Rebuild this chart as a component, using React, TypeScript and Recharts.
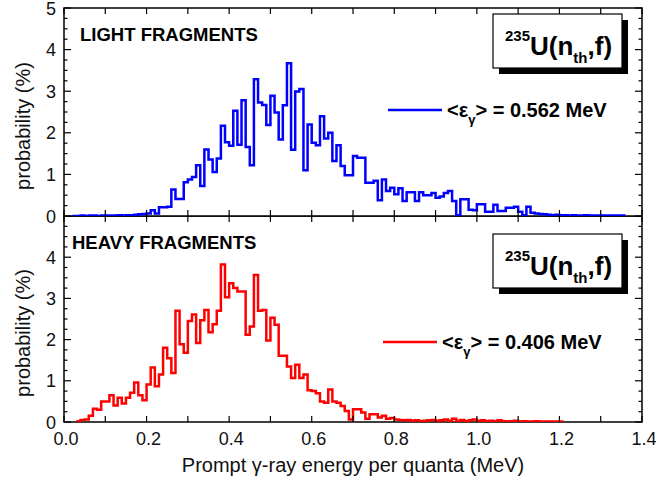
import { Line, LineChart, ReferenceArea, XAxis, YAxis } from "recharts"

// histogram bins, 0.01 MeV wide, values in %
const binWidth = 0.01

const lightStart = 0.02
const lightValues = [
  0.0, 0.0, 0.01, 0.0, 0.01, 0.01, 0.0, 0.01, 0.01, 0.01,
  0.01, 0.02, 0.01, 0.02, 0.02, 0.03, 0.04, 0.05, 0.06, 0.14,
  0.06, 0.21, 0.21, 0.22, 0.64, 0.41, 0.41, 0.81, 0.88, 0.94,
  1.22, 0.72, 1.6, 1.36, 1.06, 1.38, 2.17, 1.77, 1.69, 2.53,
  1.71, 2.78, 1.66, 1.22, 3.29, 2.73, 2.67, 2.19, 2.89, 2.49,
  1.84, 2.66, 3.67, 1.59, 2.99, 3.05, 1.1, 2.2, 1.76, 1.7,
  2.4, 1.86, 2.0, 1.32, 1.7, 1.2, 0.98, 0.98, 1.44, 1.4,
  1.4, 0.8, 0.8, 0.85, 0.38, 0.88, 0.6, 0.68, 0.52, 0.67,
  0.36, 0.57, 0.57, 0.36, 0.57, 0.5, 0.5, 0.55, 0.44, 0.47,
  0.55, 0.6, 0.36, 0.02, 0.4, 0.4, 0.15, 0.14, 0.28, 0.28,
  0.1, 0.1, 0.27, 0.12, 0.12, 0.2, 0.2, 0.22, 0.1, 0.02,
  0.22, 0.08, 0.06, 0.05, 0.04, 0.03, 0.02, 0.03, 0.02, 0.02,
  0.01, 0.02, 0.01, 0.01, 0.02, 0.01, 0.01, 0.01, 0.01, 0.01,
  0.01, 0.01, 0.01, 0.01,
]

const heavyStart = 0.03
const heavyValues = [
  0.02, 0.05, 0.06, 0.15, 0.32, 0.3, 0.5, 0.5, 0.65, 0.4,
  0.59, 0.45, 0.59, 0.71, 0.96, 0.65, 0.53, 0.91, 1.32, 0.87,
  1.15, 1.8, 1.55, 1.19, 2.7, 1.89, 1.68, 2.45, 2.61, 1.92,
  2.47, 2.72, 2.18, 2.37, 2.7, 3.82, 3.03, 3.37, 3.25, 3.17,
  3.17, 2.12, 2.32, 3.57, 2.7, 2.72, 1.98, 2.53, 2.36, 1.61,
  1.61, 1.35, 1.07, 1.39, 1.07, 1.15, 0.77, 0.75, 0.7, 0.5,
  0.47, 0.79, 0.5, 0.47, 0.39, 0.27, 0.06, 0.31, 0.31, 0.23,
  0.08, 0.19, 0.19, 0.11, 0.15, 0.08, 0.1, 0.06, 0.05, 0.04,
  0.05, 0.03, 0.04, 0.02, 0.03, 0.04, 0.05, 0.03, 0.04, 0.06,
  0.03, 0.08, 0.03, 0.05, 0.02, 0.04, 0.06, 0.03, 0.04, 0.02,
  0.03, 0.02, 0.04, 0.02, 0.01, 0.02, 0.03, 0.01, 0.02, 0.01,
  0.01, 0.02, 0.01, 0.01, 0.01, 0.01, 0.01, 0.01,
]

const xTicks = [0, 0.1, 0.2, 0.3, 0.4, 0.5, 0.6, 0.7, 0.8, 0.9, 1.0, 1.1, 1.2, 1.3, 1.4]
const yTicks = [
  0, 0.25, 0.5, 0.75, 1, 1.25, 1.5, 1.75, 2, 2.25, 2.5, 2.75, 3, 3.25, 3.5, 3.75, 4, 4.25, 4.5,
  4.75, 5,
]

const font = "'Liberation Sans', Arial, Helvetica, sans-serif"
const PLOT_W = 578

function toSteps(start: number, values: number[]) {
  const pts = values.map((p, i) => ({ e: +(start + i * binWidth).toFixed(2), p }))
  pts.push({ e: +(start + values.length * binWidth).toFixed(2), p: values[values.length - 1] })
  return pts
}

const lightData = toSteps(lightStart, lightValues)
const heavyData = toSteps(heavyStart, heavyValues)

function makeXTick(plotH: number, withLabels: boolean) {
  return (props: any) => {
    const { x, y, payload } = props
    const v = payload.value as number
    const labelled = withLabels && Math.round(v * 10) % 2 === 0
    return (
      <g>
        <line x1={x} x2={x} y1={y} y2={y - 6} stroke="#000" strokeWidth={1.2} />
        <line x1={x} x2={x} y1={y - plotH} y2={y - plotH + 6} stroke="#000" strokeWidth={1.2} />
        {labelled && (
          <text x={x + 2} y={y + 23} textAnchor="middle" fontSize={18} fontFamily={font} fill="#111">
            {v.toFixed(1)}
          </text>
        )}
      </g>
    )
  }
}

function makeYTick(maxLabel: number) {
  return (props: any) => {
    const { x, y, payload } = props
    const v = payload.value as number
    const major = Number.isInteger(v)
    const len = major ? 7 : 3.5
    return (
      <g>
        <line x1={x} x2={x + len} y1={y} y2={y} stroke="#000" strokeWidth={1.2} />
        <line x1={x + PLOT_W} x2={x + PLOT_W - len} y1={y} y2={y} stroke="#000" strokeWidth={1.2} />
        {major && v <= maxLabel && (
          <text x={x - 8} y={y + 6.5} textAnchor="end" fontSize={18} fontFamily={font} fill="#111">
            {v}
          </text>
        )}
      </g>
    )
  }
}

function Panel({
  data,
  color,
  height,
  top,
  xAxisHeight,
  withLabels,
  maxLabel,
}: {
  data: { e: number; p: number }[]
  color: string
  height: number
  top: number
  xAxisHeight: number
  withLabels: boolean
  maxLabel: number
}) {
  const plotH = height - top - xAxisHeight
  return (
    <LineChart width={656} height={height} data={data} margin={{ top, right: 14, left: 0, bottom: 0 }}>
      <XAxis
        dataKey="e"
        type="number"
        domain={[0, 1.4]}
        ticks={xTicks}
        interval={0}
        height={xAxisHeight}
        axisLine={false}
        tickLine={false}
        tickSize={0}
        tickMargin={0}
        tick={makeXTick(plotH, withLabels)}
        allowDataOverflow
      />
      <YAxis
        type="number"
        domain={[0, 5]}
        ticks={yTicks}
        interval={0}
        width={64}
        axisLine={false}
        tickLine={false}
        tickSize={0}
        tickMargin={0}
        tick={makeYTick(maxLabel)}
        allowDataOverflow
      />
      <ReferenceArea x1={0} x2={1.4} y1={0} y2={5} fill="none" stroke="#000" strokeWidth={1.5} ifOverflow="visible" />
      <Line
        type="stepAfter"
        dataKey="p"
        stroke={color}
        strokeWidth={2.5}
        dot={false}
        activeDot={false}
        isAnimationActive={false}
      />
    </LineChart>
  )
}

function ReactionBox({ x, y }: { x: number; y: number }) {
  return (
    <g>
      <rect x={x + 6} y={y + 6} width={129} height={54} fill="#000" />
      <rect x={x} y={y} width={129} height={54} fill="#fff" stroke="#000" strokeWidth={1.2} />
      <text x={x + 12} y={y + 41} fontSize={26} fontWeight="bold" fontFamily={font}>
        <tspan fontSize={15} dy={-14}>
          235
        </tspan>
        <tspan dy={14}>U(n</tspan>
        <tspan fontSize={15} dy={8}>
          th
        </tspan>
        <tspan dy={-8}>,f)</tspan>
      </text>
    </g>
  )
}

function Legend({ x, y, color, value }: { x: number; y: number; color: string; value: string }) {
  return (
    <g>
      <line x1={x} x2={x + 54} y1={y} y2={y} stroke={color} strokeWidth={2.7} />
      <text x={x + 59} y={y + 7} fontSize={20} fontWeight="bold" fontFamily={font}>
        {"<ε"}
        <tspan fontSize={13} dy={7}>
          γ
        </tspan>
        <tspan dy={-7}>{`> = ${value} MeV`}</tspan>
      </text>
    </g>
  )
}

export default function App() {
  return (
    <div style={{ position: "absolute", left: 0, top: 0, width: 656, height: 484, background: "#fff" }}>
      <div style={{ position: "absolute", left: 0, top: 0 }}>
        <Panel data={lightData} color="#0000ff" height={230} top={8} xAxisHeight={14} withLabels={false} maxLabel={5} />
      </div>
      <div style={{ position: "absolute", left: 0, top: 216 }}>
        <Panel data={heavyData} color="#ff0000" height={268} top={0} xAxisHeight={62} withLabels maxLabel={4} />
      </div>
      <svg
        width={656}
        height={484}
        style={{ position: "absolute", left: 0, top: 0, pointerEvents: "none" }}
      >
        <text x={23} y={126} transform="rotate(-90 23 126)" textAnchor="middle" dominantBaseline="central" fontSize={20} fontFamily={font} fill="#111">
          probability (%)
        </text>
        <text x={23} y={333} transform="rotate(-90 23 333)" textAnchor="middle" dominantBaseline="central" fontSize={20} fontFamily={font} fill="#111">
          probability (%)
        </text>
        <text x={353} y={472} textAnchor="middle" fontSize={20} fontFamily={font} fill="#111">
          Prompt γ-ray energy per quanta (MeV)
        </text>
        <text x={80} y={41} fontSize={18.5} fontWeight="bold" fontFamily={font}>
          LIGHT FRAGMENTS
        </text>
        <text x={72} y={249} fontSize={18.5} fontWeight="bold" fontFamily={font}>
          HEAVY FRAGMENTS
        </text>
        <ReactionBox x={493} y={14} />
        <ReactionBox x={493} y={234} />
        <Legend x={388} y={110} color="#0000ff" value="0.562" />
        <Legend x={383} y={342} color="#ff0000" value="0.406" />
      </svg>
    </div>
  )
}
